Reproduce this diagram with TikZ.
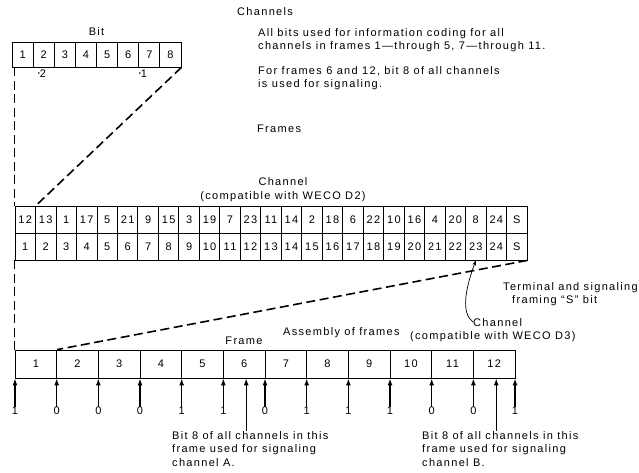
\documentclass[tikz,border=0pt]{standalone}
\usepackage{fontspec}
\setmainfont{Liberation Sans}[LetterSpace=12]
\usetikzlibrary{arrows.meta}
\begin{document}
\begin{tikzpicture}[x=1pt,y=-1pt,
  every node/.style={font=\fontsize{11}{13.5}\selectfont, inner sep=0pt},
  bitcell/.style={draw, line width=0.8pt, minimum height=25pt, minimum width=21.125pt},
  tcell/.style={draw, line width=0.8pt, minimum height=27pt, minimum width=20.48pt},
  fcell/.style={draw, line width=0.8pt, minimum height=28pt, minimum width=41.67pt},
  dashline/.style={line width=1.6pt, dash pattern=on 9pt off 4.5pt},
  uparrow/.style={line width=1.3pt, -{Latex[length=7pt,width=5pt]}},
  txt/.style={anchor=base west, align=left},
]
\useasboundingbox (0,0) rectangle (639,472);

% top texts (base anchor = baseline of the last line)
\node[txt] (chs) at (237,15) {Channels};
\node[txt] (p1) at (258,49.5) {All bits used for information coding for all\\channels in frames 1\textemdash through 5, 7\textemdash through 11.};
\node[txt] (p2) at (258,87.5) {For frames 6 and 12, bit 8 of all channels\\is used for signaling.};
\node[txt] (frs) at (257,132) {Frames};

% bit box
\node (bitl) at (96.5,32) {Bit};
\foreach \i in {1,...,8}
  \node[bitcell] (b\i) at ({12+21.125*(\i-0.5)},54.5) {\i};
\node (s2) at (42,74) {\raisebox{2pt}{\fontsize{6}{6}\selectfont •}2};
\node (s1) at (143,74) {\raisebox{2pt}{\fontsize{6}{6}\selectfont •}1};

% channel table
\node[align=center] (chd2) at (283,189.5) {Channel\\(compatible with WECO D2)};
\foreach \v [count=\i] in {12,13,1,17,5,21,9,15,3,19,7,23,11,14,2,18,6,22,10,16,4,20,8,24,S}
  \node[tcell] (c\i) at ({15+20.48*(\i-0.5)},219.5) {\v};
\foreach \i in {1,...,24}
  \node[tcell] (d\i) at ({15+20.48*(\i-0.5)},246.5) {\i};
\node[tcell] (d25) at ({15+20.48*24.5},246.5) {S};

\node[txt] (term) at (503,303.5) {Terminal and signaling\\\hspace*{9pt}framing ``S'' bit};
\node[txt] (ch3) at (473,326) {Channel};
\node[txt] (cmp3) at (410,339.5) {(compatible with WECO D3)};

% frames row
\node (frl) at (244,341) {Frame};
\node[txt] (asm) at (283,335.5) {Assembly of frames};
\foreach \i in {1,...,12}
  \node[fcell] (f\i) at ({15+41.67*(\i-0.5)},364) {\i};

% dashed connectors
\draw[dashline] (c1.north west |- b1.south) -- (c1.north west);
\draw[dashline] (d1.south west) -- (f1.north west);
\draw[dashline] (b8.south east) -- (c1.north east);
\draw[dashline] (d25.south east) -- (f1.north east);

% curved pointer to channel 23
\draw[line width=0.7pt, -{Stealth[length=5pt,width=3.5pt]}] (ch3.west) .. controls (461,313) and (465,290) .. (d23.south);

% bit arrows
\foreach \b [count=\i from 0] in {1,0,0,0,1,1,0,1,1,1,0,0,1} {
  \node (n\i) at ({15+41.67*\i},411) {\b};
  \draw[uparrow] (n\i.north) -- (n\i.north |- f1.south);
}

% signaling notes
\node[txt] (ta) at (172,466) {Bit 8 of all channels in this\\frame used for signaling\\channel A.};
\node[txt] (tb) at (422,466) {Bit 8 of all channels in this\\frame used for signaling\\channel B.};
\draw[uparrow] ([xshift=2pt]ta.north -| f6.south) -- ([xshift=2pt]f6.south);
\draw[uparrow] ([xshift=2pt]tb.north -| f12.south) -- ([xshift=2pt]f12.south);
\end{tikzpicture}
\end{document}
